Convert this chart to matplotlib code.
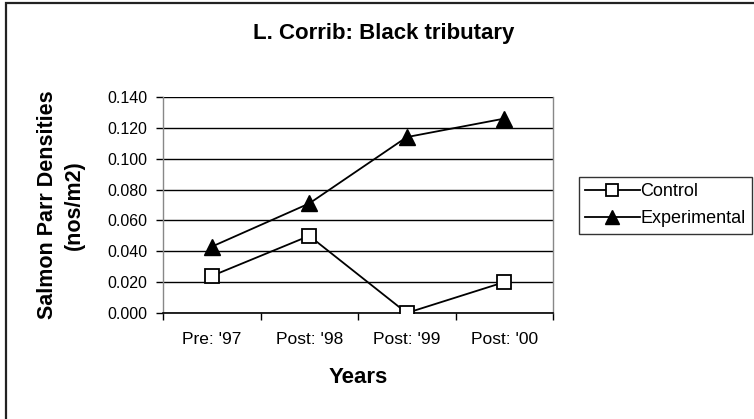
import matplotlib
matplotlib.use("Agg")
import matplotlib.pyplot as plt
from matplotlib.patches import Rectangle
from matplotlib.ticker import FixedLocator

plt.rcParams['font.family'] = ['Liberation Sans', 'DejaVu Sans']

categories = ["Pre: '97", "Post: '98", "Post: '99", "Post: '00"]
control = [0.024, 0.050, 0.000, 0.020]
experimental = [0.043, 0.071, 0.114, 0.126]
yticks = [0.000, 0.020, 0.040, 0.060, 0.080, 0.100, 0.120, 0.140]

W, H = 754, 419
fig = plt.figure(figsize=(W / 100, H / 100), dpi=100)

# outer frame (cropped at right and bottom)
fig.add_artist(Rectangle((5.5 / W, -0.1), 2.0, (H - 3) / H + 0.1, transform=fig.transFigure,
                         fill=False, edgecolor='#222222', linewidth=1.6))

ax = fig.add_axes([163 / W, (H - 313) / H, (553 - 163) / W, (313 - 97) / H])
x = list(range(len(categories)))
ax.plot(x, control, color='black', linewidth=1.3, marker='s', markersize=10,
        markerfacecolor='white', markeredgecolor='black', markeredgewidth=1.3, label='Control', zorder=3)
ax.plot(x, experimental, color='black', linewidth=1.3, marker='^', markersize=11,
        markerfacecolor='black', markeredgecolor='black', label='Experimental', zorder=3)

ax.set_xlim(-0.5, len(categories) - 0.5)
ax.set_ylim(0, 0.14)
ax.set_yticks(yticks)
ax.set_yticklabels([f"{v:.3f}" for v in yticks], fontsize=11.5)
ax.set_xticks(x)
ax.set_xticklabels(categories, fontsize=12.5)
ax.tick_params(axis='x', which='major', length=0, pad=14)
ax.xaxis.set_minor_locator(FixedLocator([i - 0.5 for i in range(len(categories) + 1)]))
ax.tick_params(axis='x', which='minor', length=5, width=1, color='black', direction='out')
ax.tick_params(axis='y', length=5, width=1, color='black', direction='out', pad=6)

ax.grid(axis='y', color='black', linewidth=1)
ax.set_axisbelow(True)
for s in ['left', 'right', 'top']:
    ax.spines[s].set_color('#888888')
    ax.spines[s].set_linewidth(1)
ax.spines['top'].set_visible(False)
ax.spines['bottom'].set_color('black')
ax.spines['bottom'].set_linewidth(1.2)

ax.set_xlabel('Years', fontsize=16, fontweight='bold', labelpad=14)
ax.set_ylabel('Salmon Parr Densities\n(nos/m2)', fontsize=15.5, fontweight='bold',
              labelpad=16, linespacing=1.4)

fig.text(384 / W, 1 - 39 / H, 'L. Corrib: Black tributary', ha='center', va='baseline',
         fontsize=16, fontweight='bold')

leg = fig.legend(loc='upper right', bbox_to_anchor=(752 / W, 1 - 177 / H), fontsize=13,
                 frameon=True, fancybox=False, edgecolor='black', borderpad=0.35,
                 handlelength=3.0, handletextpad=0.05, labelspacing=0.55, borderaxespad=0,
                 markerscale=0.9)
leg.get_frame().set_linewidth(1)

fig.savefig('out.png', dpi=100)
